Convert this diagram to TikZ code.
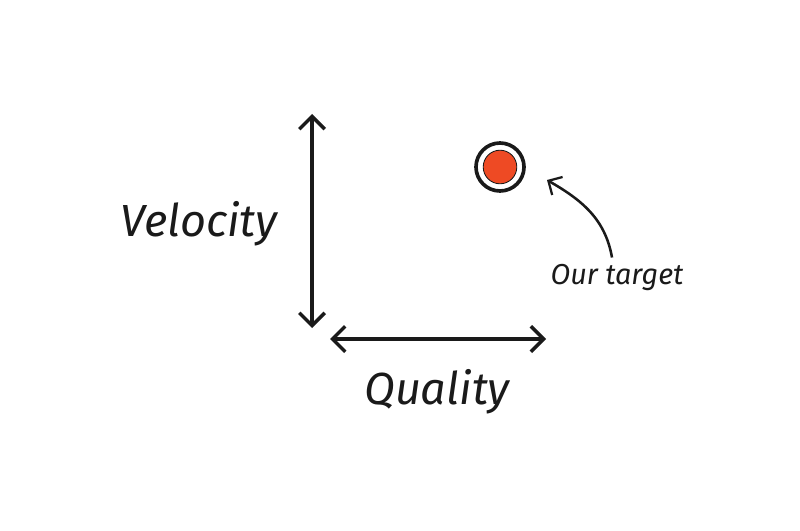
\documentclass[tikz,border=0pt]{standalone}
\usepackage{fontspec}
\setmainfont{Fira Sans}
\usetikzlibrary{arrows.meta,positioning,calc}
\definecolor{Ink}{HTML}{1A1A1A}
\definecolor{Hit}{HTML}{EE4A24}

\begin{document}
\begin{tikzpicture}[x=0.025cm,y=-0.025cm,
    axis/.style={draw=Ink,line width=2.6pt,{Straight Barb[length=3.2mm,width=6.4mm,line width=2.4pt]}-{Straight Barb[length=3.2mm,width=6.4mm,line width=2.4pt]}},
    word/.style={font=\fontsize{32}{36}\selectfont\itshape,text=Ink,inner sep=0pt},
    note/.style={font=\fontsize{20.5}{24}\selectfont\itshape,text=Ink,inner sep=0pt}]
    \useasboundingbox[fill=white] (0,0) rectangle (800,531);
    % axes
    \coordinate (vtop) at (312,114);
    \coordinate (vbot) at (312,328);
    \coordinate (hlft) at (330,339);
    \coordinate (hrgt) at (546,339);
    \foreach \u/\v in {vtop/vbot,hlft/hrgt}\draw[axis] (\u)--(\v);
    \node[word] (vel) at (199,224) {Velocity};
    \node[word] (qual) at (437,392) {Quality};
    % target
    \node[circle,draw=Ink,line width=2.6pt,fill=white,inner sep=0pt,minimum size=1.2cm] (ring) at (500,167) {};
    \node[circle,draw=Ink,line width=0.6pt,fill=Hit,inner sep=0pt,minimum size=0.84cm] (dot) at (ring) {};
    \node[note] (lbl) at (617,278) {Our target};
    \coordinate (aim) at (547,180);
    \draw[Ink,line width=1.8pt,-{Straight Barb[length=2.6mm,width=5.2mm,line width=1.6pt]}] ($(lbl.north)+(-5,-7)$) to[out=100,in=-30] (aim);
\end{tikzpicture}
\end{document}
